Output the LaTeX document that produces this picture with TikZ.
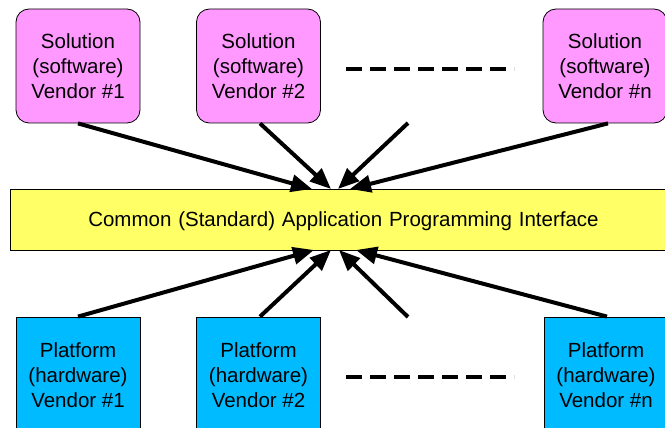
\documentclass[tikz,border=0pt]{standalone}
\usepackage{fontspec}
\setmainfont{Liberation Sans}
\usetikzlibrary{arrows.meta}
\definecolor{sol}{RGB}{255,153,255}
\definecolor{plat}{RGB}{0,187,255}
\definecolor{api}{RGB}{255,255,102}
\begin{document}
\begin{tikzpicture}[x=1pt,y=-1pt,
  txt/.style={font=\fontsize{20.5}{25}\selectfont, align=center, text=black},
  solbox/.style={txt, draw=black, line width=0.8pt, fill=sol, rounded corners=13pt, minimum width=124pt, minimum height=114pt, inner sep=0pt},
  platbox/.style={txt, draw=black, line width=0.8pt, fill=plat, minimum width=124pt, minimum height=120pt, inner sep=0pt},
  apibox/.style={txt, draw=black, line width=0.8pt, fill=api, minimum width=670pt, minimum height=61pt, inner sep=0pt},
  conn/.style={line width=4pt, -{Triangle[length=21pt,width=17pt]}},
  dots/.style={line width=4.5pt, dash pattern=on 16pt off 8pt}
]
\useasboundingbox (0,0) rectangle (665,428);
\clip (0,0) rectangle (665,428);
\node[solbox] (s1) at (78,66) {Solution\\(software)\\Vendor \#1};
\node[solbox] (s2) at (258.5,66) {Solution\\(software)\\Vendor \#2};
\node[solbox] (sn) at (605,66) {Solution\\(software)\\Vendor \#n};
\node[platbox] (p1) at (78,377) {};
\node[platbox] (p2) at (258.5,377) {};
\node[platbox] (pn) at (606,377) {};
\node[txt] (p1t) at (78,375.5) {Platform\\(hardware)\\Vendor \#1};
\node[txt] (p2t) at (258.5,375.5) {Platform\\(hardware)\\Vendor \#2};
\node[txt] (pnt) at (606,375.5) {Platform\\(hardware)\\Vendor \#n};
\node[apibox, anchor=west] (api) at (9.5,219.5) {};
\node[txt, text width=600pt] (apit) at (343.5,221) {Common (Standard) Application Programming Interface};
% top arrows
\coordinate (t1) at (312,189);
\coordinate (t2) at (331,189);
\coordinate (t3) at (338,189);
\coordinate (t4) at (350,189);
\coordinate (f3) at (408,123);
\draw[conn] (s1.south) -- (t1);
\draw[conn] ([xshift=1.5pt]s2.south) -- (t2);
\draw[conn] (f3) -- (t3);
\draw[conn] ([xshift=3pt]sn.south) -- (t4);
% bottom arrows
\coordinate (b1) at (314,250);
\coordinate (b2) at (331,250);
\coordinate (b3) at (339,250);
\coordinate (b4) at (356,250);
\coordinate (g3) at (408,317);
\draw[conn] (p1.north) -- (b1);
\draw[conn] ([xshift=1.5pt]p2.north) -- (b2);
\draw[conn] (g3) -- (b3);
\draw[conn] ([xshift=1pt]pn.north) -- (b4);
% dashed
\coordinate (d1) at (346,69);
\coordinate (d2) at (514,69);
\coordinate (e1) at (346,377);
\coordinate (e2) at (514,377);
\draw[dots] (d1) -- (d2);
\draw[dots] (e1) -- (e2);
\end{tikzpicture}
\end{document}
